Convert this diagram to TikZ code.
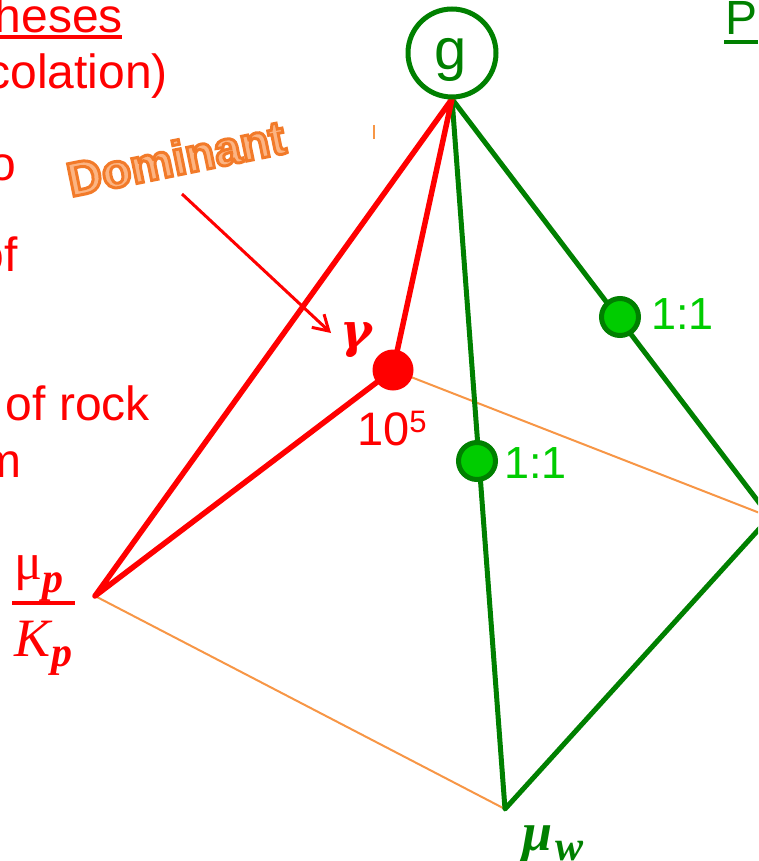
\documentclass[tikz,border=0pt]{standalone}
\usepackage{fontspec}
\usetikzlibrary{arrows.meta}
\setmainfont{Liberation Sans}
\newfontfamily\mathish{Liberation Serif}
\newfontfamily\gammafont{DejaVu Serif}
\definecolor{dgreen}{RGB}{0,128,0}
\definecolor{lgreen}{RGB}{0,204,0}
\definecolor{lorange}{RGB}{247,150,70}
\definecolor{porange}{RGB}{252,180,130}
\tikzset{
  redtxt/.style={text=red,font=\fontsize{48}{48}\selectfont,inner sep=0pt,anchor=base west},
  redline/.style={draw=red,line width=5.5pt,line join=round},
  greenline/.style={draw=dgreen,line width=5pt,line join=round},
  thinline/.style={draw=lorange,line width=2pt},
  gdot/.style={circle,draw=dgreen,fill=lgreen,line width=5pt,minimum size=37pt,inner sep=0pt},
  rdot/.style={circle,fill=red,minimum size=41pt,inner sep=0pt},
  glabel/.style={text=lgreen,font=\fontsize{45}{45}\selectfont,inner sep=0pt,anchor=base west},
  domtxt/.style={rotate=11.5,font=\fontsize{48}{48}\selectfont\bfseries,inner sep=0pt},
}
\begin{document}
\begin{tikzpicture}[x=1pt,y=-1pt]
\useasboundingbox (0,0) rectangle (758,861);
\clip (0,0) rectangle (758,861);
\coordinate (K) at (95,596);
\coordinate (W) at (505,809);
\coordinate (E) at (770,517);
\coordinate (P) at (393,370);
\coordinate (G) at (452,99);
\node[redtxt,anchor=base east] (t1) at (123,33) {heses};
\draw[red,line width=4pt] (0,37.5) -- (122,37.5);
\node[redtxt,anchor=base east] (t2) at (168,89) {colation)};
\node[redtxt,anchor=base east] (t3) at (16,181) {o};
\node[redtxt,anchor=base east] (t4) at (18,271) {of};
\node[redtxt,anchor=base east] (t5) at (150,420) {of rock};
\node[redtxt,anchor=base east] (t6) at (22,477) {m};
\node[text=dgreen,font=\fontsize{48}{48}\selectfont,inner sep=0pt,anchor=base west] (t7) at (725,35) {P};
\draw[dgreen,line width=4pt] (724,42) -- (758,42);
\draw[thinline] (K) -- (W);
\draw[thinline] (P) -- (E);
\draw[greenline] (G) -- (W) -- (E);
\draw[greenline] (G) -- (E);
\draw[redline] (G) -- (K) -- (P) -- cycle;
\node[rdot] (pd) at (P) {};
\node[gdot] (d1) at (477,461) {};
\node[gdot] (d2) at (620,317) {};
\node[glabel] (l1) at (504,478) {1:1};
\node[glabel] (l2) at (651,329) {1:1};
\node[circle,draw=dgreen,line width=5pt,minimum size=88pt,inner sep=0pt] (g) at (452,53) {};
\node[text=dgreen,font=\fontsize{58}{58}\selectfont,inner sep=0pt,anchor=base] (gt) at (451,70) {g};
\node[text=red,font=\fontsize{47}{47}\selectfont,inner sep=0pt,anchor=base west] (ten) at (357,445) {10\raisebox{13pt}{\fontsize{31}{31}\selectfont 5}};
\node[text=red,font=\fontsize{48}{48}\gammafont\bfseries\itshape,inner sep=0pt,anchor=base west] (gam) at (340,347) {γ};
\coordinate (a1) at (182,194);
\draw[red,line width=3pt,-{Straight Barb[length=15pt,width=18pt,line width=3pt]}] (a1) -- (331,333);
\node[domtxt,text=porange] (dom) at (176,158) {\special{pdf:code q 2 Tr 3 w 0.95 0.48 0.16 RG}Dominant\special{pdf:code Q}};
\node[text=red,font=\fontsize{52}{52}\mathish,inner sep=0pt,anchor=base west] (mu) at (14,579) {μ};
\node[text=red,font=\fontsize{42}{42}\mathish\bfseries\itshape,inner sep=0pt,anchor=base west] (pu) at (42,592) {p};
\draw[red,line width=4pt] (12,603) -- (75,603);
\node[text=red,font=\fontsize{54}{54}\mathish\itshape,inner sep=0pt,anchor=base west] (kp) at (14,656) {K};
\node[text=red,font=\fontsize{42}{42}\mathish\bfseries\itshape,inner sep=0pt,anchor=base west] (pl) at (51,666) {p};
\node[text=dgreen,font=\fontsize{54}{54}\mathish\bfseries\itshape,inner sep=0pt,anchor=base west] (muw) at (522,850) {μ};
\node[text=dgreen,font=\fontsize{42}{42}\mathish\bfseries\itshape,inner sep=0pt,anchor=base west] (wl) at (555,860) {w};
\draw[lorange,line width=1.6pt] (374,125) -- (374,139);
\end{tikzpicture}
\end{document}
